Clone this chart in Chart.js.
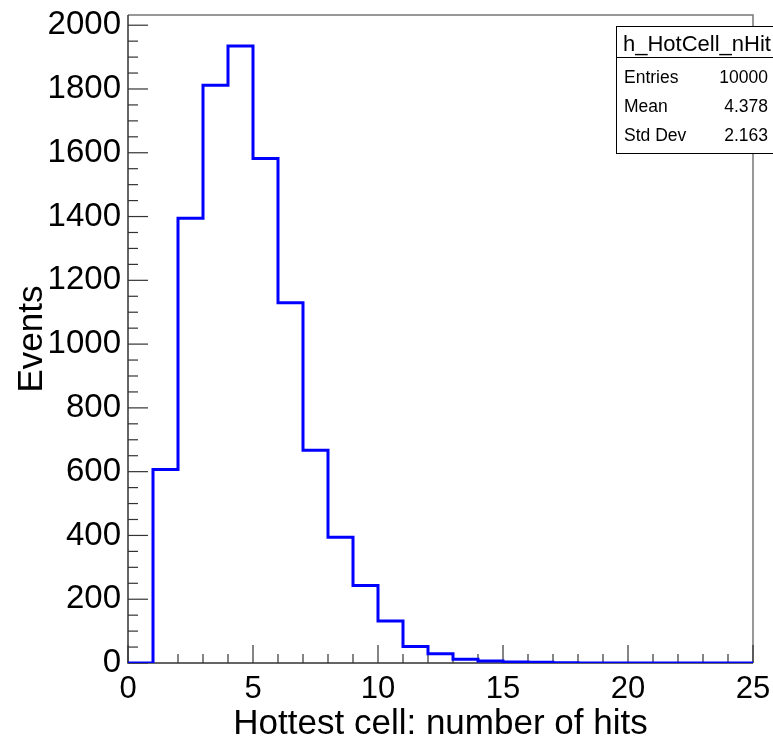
<!DOCTYPE html>
<html>
<head>
<meta charset="utf-8">
<script src="https://cdn.jsdelivr.net/npm/chart.js@4.4.1/dist/chart.umd.min.js"></script>
<style>
  html, body { margin: 0; padding: 0; background: #fff; }
  #wrap { width: 773px; height: 742px; position: relative; }
</style>
</head>
<body>
<div id="wrap"><canvas id="c"></canvas></div>
<script>
// histogram h_HotCell_nHit, bins of width 1 from 0 to 25
const binEdges = [0,1,2,3,4,5,6,7,8,9,10,11,12,13,14,15,16,17,18,19,20,21,22,23,24];
const counts   = [0,607,1395,1812,1935,1582,1130,667,394,243,132,52,29,12,6,3,2,1,0,0,0,0,0,0,0];
const xRange = [0, 25];
const yRange = [0, 2032];
const xTicks = [0, 5, 10, 15, 20, 25];
const yTicks = [0, 200, 400, 600, 800, 1000, 1200, 1400, 1600, 1800, 2000];
const xTitle = 'Hottest cell: number of hits';
const yTitle = 'Events';
const statsTitle = 'h_HotCell_nHit';
const statsLabels = ['Entries', 'Mean', 'Std Dev'];
const statsValues = ['10000', '4.378', '2.163'];

const FONT = '"Liberation Sans", Helvetica, Arial, sans-serif';

// outline points: left edge of each bin, plus the right edge of the last one
const points = binEdges.map((e, i) => ({x: e, y: counts[i]}));
points.push({x: xRange[1], y: counts[counts.length - 1]});

const rootStyle = {
  id: 'rootStyle',
  beforeDatasetsDraw(chart) {
    const ctx = chart.ctx, a = chart.chartArea;
    const xs = chart.scales.x, ys = chart.scales.y;
    ctx.save();
    // top and right frame
    ctx.strokeStyle = '#777';
    ctx.lineWidth = 1.5;
    ctx.beginPath();
    ctx.moveTo(a.left, a.top); ctx.lineTo(a.right, a.top); ctx.lineTo(a.right, a.bottom);
    ctx.stroke();
    // axes
    ctx.strokeStyle = '#333';
    ctx.beginPath();
    ctx.moveTo(a.left, a.top); ctx.lineTo(a.left, a.bottom); ctx.lineTo(a.right, a.bottom);
    ctx.stroke();
    // ticks drawn inward, ROOT style
    ctx.lineWidth = 1.2;
    for (let v = xRange[0]; v <= xRange[1]; v += 1) {
      const px = xs.getPixelForValue(v);
      const len = v % 5 === 0 ? 18 : 9;
      ctx.beginPath(); ctx.moveTo(px, a.bottom); ctx.lineTo(px, a.bottom - len); ctx.stroke();
    }
    for (let v = 0; v <= yRange[1]; v += 50) {
      const py = ys.getPixelForValue(v);
      const len = v % 200 === 0 ? 20 : 10;
      ctx.beginPath(); ctx.moveTo(a.left, py); ctx.lineTo(a.left + len, py); ctx.stroke();
    }
    ctx.restore();
  },
  afterDraw(chart) {
    const ctx = chart.ctx;
    const bx = 616, by = 26, bw = 160, bh = 127, titleH = 31;
    ctx.save();
    ctx.fillStyle = '#fff';
    ctx.fillRect(bx, by, bw, bh);
    ctx.strokeStyle = '#000';
    ctx.lineWidth = 1;
    ctx.strokeRect(bx + 0.5, by + 0.5, bw, bh);
    ctx.beginPath();
    ctx.moveTo(bx, by + titleH + 0.5); ctx.lineTo(bx + bw, by + titleH + 0.5);
    ctx.stroke();
    ctx.fillStyle = '#000';
    ctx.textBaseline = 'alphabetic';
    ctx.font = '22px ' + FONT;
    ctx.textAlign = 'left';
    ctx.fillText(statsTitle, bx + 7, by + 25);
    ctx.font = '17.5px ' + FONT;
    statsLabels.forEach((lab, i) => {
      const y = by + 57 + 29 * i;
      ctx.textAlign = 'left';
      ctx.fillText(lab, bx + 8, y);
      ctx.textAlign = 'right';
      ctx.fillText(statsValues[i], 768, y);
    });
    ctx.restore();
  }
};

new Chart(document.getElementById('c'), {
  type: 'line',
  data: {
    datasets: [{
      data: points,
      stepped: 'before',
      borderColor: '#0000ff',
      borderWidth: 3,
      pointRadius: 0,
      fill: false
    }]
  },
  options: {
    responsive: true,
    maintainAspectRatio: false,
    devicePixelRatio: 1,
    animation: false,
    layout: { padding: { left: 0, top: 15, right: 20, bottom: 0 } },
    plugins: { legend: { display: false }, tooltip: { enabled: false } },
    scales: {
      x: {
        type: 'linear',
        min: xRange[0], max: xRange[1],
        grid: { display: false, drawTicks: false },
        border: { display: false },
        ticks: { padding: 8, color: '#000', font: { family: FONT, size: 31 }, callback: v => String(v) },
        afterBuildTicks(s) { s.ticks = xTicks.map(v => ({value: v})); },
        title: { display: true, text: xTitle, color: '#000', font: { family: FONT, size: 35, lineHeight: 1 }, padding: { top: 0, bottom: 0 } },
        afterFit(s) { s.height = 79; s.paddingLeft = 0; s.paddingRight = 0; }
      },
      y: {
        min: yRange[0], max: yRange[1],
        grid: { display: false, drawTicks: false },
        border: { display: false },
        ticks: { padding: 7, autoSkip: false, color: '#000', font: { family: FONT, size: 33 }, callback: v => String(v) },
        afterBuildTicks(s) { s.ticks = yTicks.map(v => ({value: v})); },
        title: { display: true, text: yTitle, color: '#000', font: { family: FONT, size: 35, lineHeight: 1 }, padding: { top: 15, bottom: 0 } },
        afterFit(s) { s.width = 128; s.paddingTop = 0; s.paddingBottom = 0; }
      }
    }
  },
  plugins: [rootStyle]
});
</script>
</body>
</html>
